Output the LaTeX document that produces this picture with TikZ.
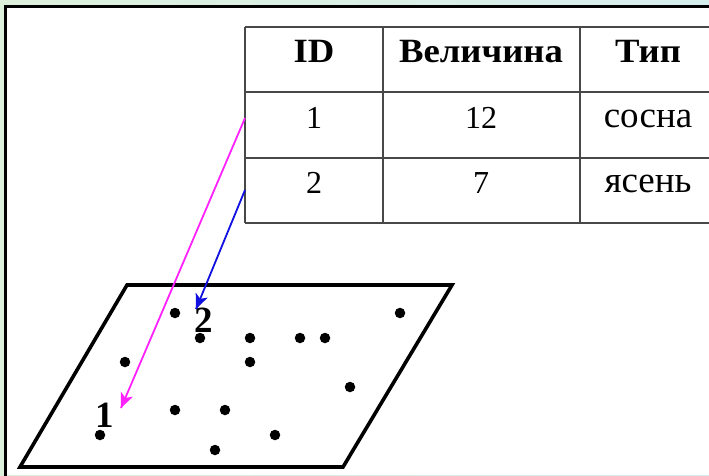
\documentclass[tikz,border=0pt]{standalone}
\usepackage{fontspec}
\setmainfont{Liberation Serif}
\newfontfamily\headfont[FakeStretch=1.08]{Liberation Serif}
\usetikzlibrary{decorations.markings}
\definecolor{bgleft}{HTML}{DDF0DC}
\definecolor{bgright}{HTML}{D6EEEE}
\definecolor{gridgray}{HTML}{484848}
\definecolor{pinkarrow}{HTML}{FF22FF}
\definecolor{bluearrow}{HTML}{1010E0}
\tikzset{
  cell/.style={font=\fontsize{32}{34}\selectfont, inner sep=0pt, anchor=base},
  wordcell/.style={font=\fontsize{37}{39}\selectfont, inner sep=0pt, anchor=base},
  headcell/.style={font=\headfont\fontsize{34}{36}\selectfont\bfseries, inner sep=0pt, anchor=base},
  dot/.style={circle, fill=black, inner sep=0pt, minimum size=10.5pt},
  lab/.style={font=\fontsize{37}{39}\selectfont\bfseries, inner sep=0pt, anchor=base},
  gridline/.style={draw=gridgray, line width=2pt},
  link/.style={line width=1.8pt, postaction={decorate},
    decoration={markings, mark=at position 1 with {
      \fill[#1] (0pt,0pt) -- (-15pt,6.5pt) -- (-11pt,0pt) -- (-15pt,-6.5pt) -- cycle;}}},
}
\begin{document}
\begin{tikzpicture}[x=1pt,y=-1pt]
\useasboundingbox (0,0) rectangle (709,475);
\shade[left color=bgleft, right color=bgright] (0,0) rectangle (709,475);
\fill[white] (5,6) rectangle (709,475);
\draw[line width=3pt, line cap=rect] (5,475) -- (5,6) -- (709,6);
% table grid
\draw[gridline] (245,27) -- (712,27);
\draw[gridline] (245,92) -- (712,92);
\draw[gridline] (245,158) -- (712,158);
\draw[gridline] (245,223) -- (712,223);
\draw[gridline] (245,27) -- (245,223);
\draw[gridline] (383,27) -- (383,223);
\draw[gridline] (580,27) -- (580,223);
% cells
\node[headcell] (hid) at (314,62) {ID};
\node[headcell] (hval) at (481,62) {Величина};
\node[headcell] (htype) at (648,62) {Тип};
\node[cell] (r1id) at (314,128) {1};
\node[cell] (r1val) at (481,128) {12};
\node[wordcell] (r1type) at (648,127) {сосна};
\node[cell] (r2id) at (314,193) {2};
\node[cell] (r2val) at (481,193) {7};
\node[wordcell] (r2type) at (648,192) {ясень};
% parallelogram
\draw[line width=3.6pt, line join=miter] (127,285) -- (452,285) -- (343,467) -- (20,467) -- cycle;
% dots
\foreach \p/\n in {{(175,313)}/d1,{(400,313)}/d2,{(200,338)}/d3,{(250,338)}/d4,{(300,338)}/d5,{(325,338)}/d6,{(125,362)}/d7,{(250,362)}/d8,{(350,387)}/d9,{(175,410)}/d10,{(225,410)}/d11,{(100,435)}/d12,{(275,435)}/d13,{(215,450)}/d14}
  \node[dot] (\n) at \p {};
% labels
\node[lab] (l1) at (105,427) {1};
\node[lab] (l2) at (204,332) {2};
% arrows
\coordinate (s1) at (245,118);
\coordinate (e1) at (121,408);
\coordinate (s2) at (245,190);
\coordinate (e2) at (196,309);
\draw[link=pinkarrow, draw=pinkarrow] (s1) -- (e1);
\draw[link=bluearrow, draw=bluearrow] (s2) -- (e2);
\end{tikzpicture}
\end{document}
